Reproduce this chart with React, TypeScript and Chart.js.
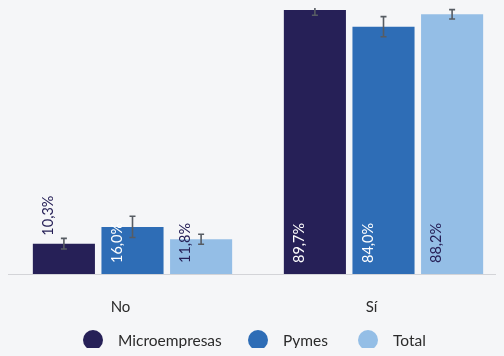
import React, { useEffect, useRef } from "react";
import { Chart, registerables } from "chart.js";

Chart.register(...registerables);

const categories = ["No", "Sí"];
const seriesNames = ["Microempresas", "Pymes", "Total"];
const microValues = [10.3, 89.7];
const pymesValues = [16.0, 84.0];
const totalValues = [11.8, 88.2];
const microErrors = [1.8, 1.8];
const pymesErrors = [3.6, 3.4];
const totalErrors = [1.7, 1.6];

const colors = ["#262057", "#2e6db6", "#94bee6"];
const labelColors = ["#ffffff", "#ffffff", "#262057"];
const FONT = "Lato, 'Open Sans', sans-serif";

const fmt = (v: number) => v.toFixed(1).replace(".", ",") + "%";

export default function App() {
  const ref = useRef<HTMLCanvasElement | null>(null);

  useEffect(() => {
    document.body.style.background = "#f5f6f8";
    document.documentElement.style.background = "#f5f6f8";
    const errors = [microErrors, pymesErrors, totalErrors];

    const overlay = {
      id: "overlay",
      afterDatasetsDraw(chart: any) {
        const ctx = chart.ctx;
        const y = chart.scales.y;
        ctx.save();
        chart.data.datasets.forEach((ds: any, di: number) => {
          const meta = chart.getDatasetMeta(di);
          meta.data.forEach((bar: any, i: number) => {
            const v = ds.data[i];
            const e = errors[di][i];
            const yt = y.getPixelForValue(v + e);
            const yb = y.getPixelForValue(v - e);
            ctx.strokeStyle = "#575c63";
            ctx.lineWidth = 1.6;
            ctx.beginPath();
            ctx.moveTo(bar.x, yt);
            ctx.lineTo(bar.x, yb);
            ctx.moveTo(bar.x - 3, yt);
            ctx.lineTo(bar.x + 3, yt);
            ctx.moveTo(bar.x - 3, yb);
            ctx.lineTo(bar.x + 3, yb);
            ctx.stroke();
          });
        });
        chart.data.datasets.forEach((ds: any, di: number) => {
          const meta = chart.getDatasetMeta(di);
          meta.data.forEach((bar: any, i: number) => {
            const v = ds.data[i];
            const h = bar.base - bar.y;
            const outside = h < 32;
            const startY = outside ? bar.y - 8 : bar.base - 11;
            ctx.save();
            ctx.translate(bar.x - 11, startY);
            ctx.rotate(-Math.PI / 2);
            ctx.font = `14.5px ${FONT}`;
            ctx.textAlign = "left";
            ctx.textBaseline = "alphabetic";
            ctx.fillStyle = outside ? "#262057" : labelColors[di];
            ctx.fillText(fmt(v), 0, 0);
            ctx.restore();
          });
        });
        const legendX = [86, 251, 361];
        const legendY = 332;
        ctx.font = `15.5px ${FONT}`;
        ctx.textBaseline = "middle";
        ctx.textAlign = "left";
        seriesNames.forEach((name, i) => {
          ctx.fillStyle = colors[i];
          ctx.beginPath();
          ctx.arc(legendX[i], legendY, 10, 0, Math.PI * 2);
          ctx.fill();
          ctx.fillStyle = "#2b2b2b";
          ctx.fillText(name, legendX[i] + 25, legendY + 1);
        });
        ctx.restore();
      },
    };

    const chart = new Chart(ref.current as HTMLCanvasElement, {
      type: "bar",
      data: {
        labels: categories,
        datasets: [
          { label: seriesNames[0], data: microValues, backgroundColor: colors[0] },
          { label: seriesNames[1], data: pymesValues, backgroundColor: colors[1] },
          { label: seriesNames[2], data: totalValues, backgroundColor: colors[2] },
        ],
      },
      options: {
        animation: false,
        responsive: false,
        maintainAspectRatio: false,
        layout: { padding: { top: 1, bottom: 8, left: 0, right: 0 } },
        datasets: { bar: { categoryPercentage: 0.82, barPercentage: 0.905 } },
        plugins: { legend: { display: false }, tooltip: { enabled: false } },
        scales: {
          x: {
            grid: { display: false, drawTicks: false },
            border: { display: true, color: "#d3d4d8", width: 1 },
            ticks: {
              padding: 24,
              labelOffset: -12,
              color: "#2b2b2b",
              font: { family: FONT, size: 15 },
            },
          },
          y: { display: false, min: 0, max: 90 },
        },
      },
      plugins: [overlay],
    });
    return () => chart.destroy();
  }, []);

  return (
    <div style={{ width: 496, height: 340, overflow: "hidden" }}>
      <canvas ref={ref} width={502} height={340} style={{ display: "block", width: 502, height: 340, marginLeft: -1 }} />
    </div>
  );
}
